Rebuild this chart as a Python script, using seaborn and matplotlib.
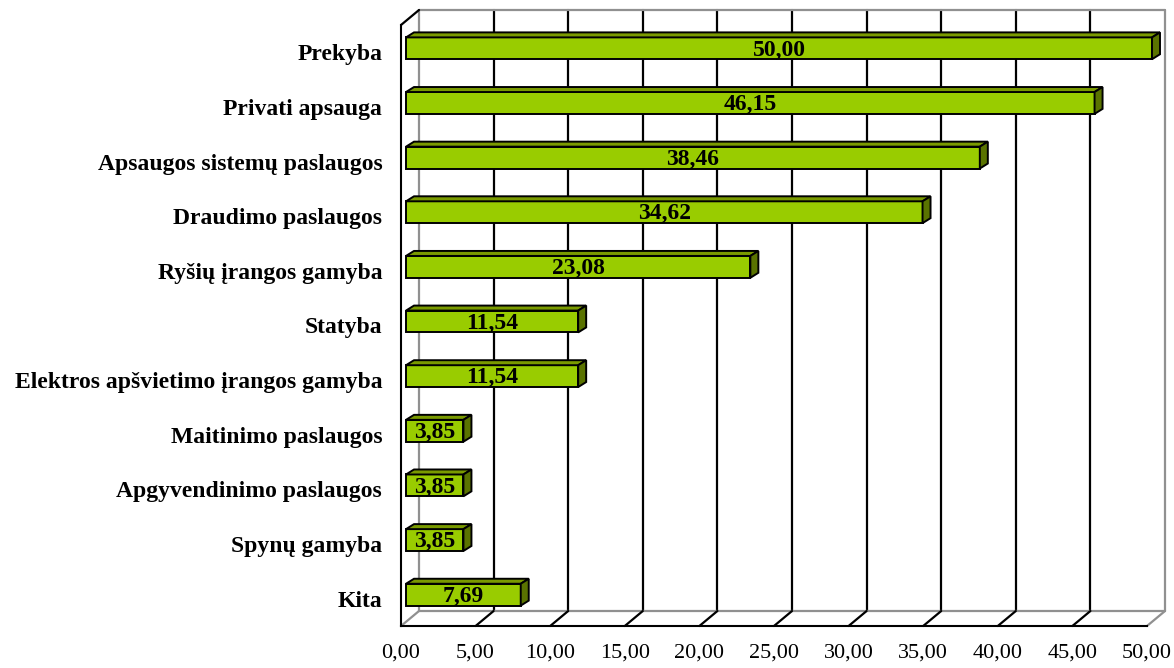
import matplotlib
matplotlib.use("Agg")
import matplotlib.pyplot as plt
import matplotlib.transforms as mtransforms
from matplotlib.patches import Polygon
from matplotlib.lines import Line2D
import seaborn as sns
import pandas as pd

categories = ["Prekyba", "Privati apsauga", "Apsaugos sistemų paslaugos",
              "Draudimo paslaugos", "Ryšių įrangos gamyba", "Statyba",
              "Elektros apšvietimo įrangos gamyba", "Maitinimo paslaugos",
              "Apgyvendinimo paslaugos", "Spynų gamyba", "Kita"]
values = [50.00, 46.15, 38.46, 34.62, 23.08, 11.54, 11.54, 3.85, 3.85, 3.85, 7.69]
x_ticks = [0, 5, 10, 15, 20, 25, 30, 35, 40, 45, 50]
x_tick_labels = ["0,00", "5,00", "10,00", "15,00", "20,00", "25,00",
                 "30,00", "35,00", "40,00", "45,00", "50,00"]

sns.set_style("white")
plt.rcParams["font.family"] = ["Liberation Serif", "DejaVu Serif"]
plt.rcParams["text.color"] = "black"
plt.rcParams["xtick.color"] = "black"
plt.rcParams["ytick.color"] = "black"
plt.rcParams["xtick.labelcolor"] = "black"
plt.rcParams["ytick.labelcolor"] = "black"

W, H = 1174, 668
fig = plt.figure(figsize=(W / 100, H / 100), dpi=100)
fig.patch.set_facecolor("white")
# front plane of the 3D box
ax = fig.add_axes([401 / W, 1 - 626 / H, 746 / W, 601 / H])

df = pd.DataFrame({"category": categories, "value": values})
sns.barplot(data=df, x="value", y="category", orient="h", color="#99CC00",
            saturation=1, width=0.40, edgecolor="black", linewidth=1.4,
            ax=ax, zorder=2)

ax.set_xlim(0, 50)
ax.set_ylim(len(categories) - 0.5, -0.5)
ax.set_xlabel("")
ax.set_ylabel("")
ax.set_facecolor("none")

# spines
for s in ["top", "right"]:
    ax.spines[s].set_visible(False)
for s in ["left", "bottom"]:
    ax.spines[s].set_color("black")
    ax.spines[s].set_linewidth(1.5)

ax.set_xticks(x_ticks)
ax.set_xticklabels(x_tick_labels, fontsize=16, color="black")
ax.tick_params(axis="x", direction="out", length=7, width=1.5, color="black", pad=5.5)
ax.set_yticks(range(len(categories)))
ax.set_yticklabels(categories, fontsize=17, fontweight="bold", color="black")
ax.set_yticks([i - 0.5 for i in range(len(categories) + 1)], minor=True)
ax.tick_params(axis="y", which="major", length=0, pad=13.5)
ax.tick_params(axis="y", which="minor", direction="out", length=8, width=1.5, color="black")

# 3D offsets in pixels (display coords, y up)
bar_shift = mtransforms.Affine2D().translate(5, 4)
back_shift = mtransforms.Affine2D().translate(18, 15)
T_bar = ax.transData + bar_shift
T_back = ax.transData + back_shift
ident = mtransforms.IdentityTransform()

ymin, ymax = -0.5, len(categories) - 0.5
grey = "#909090"
# back wall
for x in x_ticks:
    col = grey if x in (0, 50) else "black"
    ax.add_line(Line2D([x, x], [ymin, ymax], color=col, lw=1.6, transform=T_back,
                       clip_on=False, zorder=0.5))
for y in (ymin, ymax):
    ax.add_line(Line2D([0, 50], [y, y], color=grey, lw=1.6, transform=T_back,
                       clip_on=False, zorder=0.5))
# floor diagonals and left wall top edge
for x in x_ticks:
    p0 = ax.transData.transform((x, ymax))
    p1 = T_back.transform((x, ymax))
    col = grey if x in (0, 50) else "black"
    ax.add_line(Line2D([p0[0], p1[0]], [p0[1], p1[1]], color=col, lw=1.6,
                       transform=ident, clip_on=False, zorder=0.6))
p0 = ax.transData.transform((0, ymin))
p1 = T_back.transform((0, ymin))
ax.add_line(Line2D([p0[0], p1[0]], [p0[1], p1[1]], color="black", lw=1.6,
                   transform=ident, clip_on=False, zorder=0.6))

# bars: shift and add 3D faces
dx, dy = 8, 5
for p in ax.patches:
    p.set_transform(T_bar)
    p.set_clip_on(False)
    x0, y0 = p.get_x(), p.get_y()
    w, h = p.get_width(), p.get_height()
    ytop = min(y0, y0 + h)
    ybot = max(y0, y0 + h)
    tl = T_bar.transform((x0, ytop))
    tr = T_bar.transform((x0 + w, ytop))
    br = T_bar.transform((x0 + w, ybot))
    top = Polygon([tl, tr, (tr[0] + dx, tr[1] + dy), (tl[0] + dx, tl[1] + dy)],
                  closed=True, facecolor="#7A9A00", edgecolor="black", lw=1.4,
                  transform=ident, clip_on=False, zorder=2.1)
    side = Polygon([tr, br, (br[0] + dx, br[1] + dy), (tr[0] + dx, tr[1] + dy)],
                   closed=True, facecolor="#5A7300", edgecolor="black", lw=1.4,
                   transform=ident, clip_on=False, zorder=2.1)
    ax.add_patch(top)
    ax.add_patch(side)

for i, v in enumerate(values):
    ax.text(v / 2, i + 0.03, f"{v:.2f}".replace(".", ","), ha="center", va="center",
            fontsize=17, fontweight="bold", color="black", transform=T_bar,
            zorder=3, clip_on=False)

fig.savefig("out.png", dpi=100)
